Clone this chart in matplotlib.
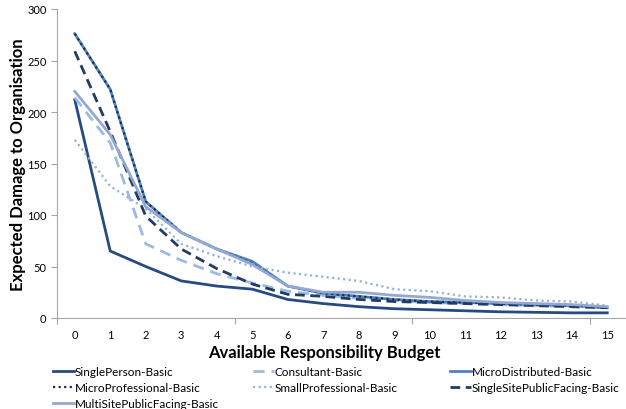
import matplotlib
matplotlib.use("Agg")
import matplotlib.pyplot as plt

plt.rcParams['font.family'] = ['Lato', 'DejaVu Sans']

budget = list(range(16))
single_person = [212, 65, 50, 36, 31, 28, 18, 14, 11, 9, 8, 7, 6, 5.5, 5, 5]
consultant = [214, 170, 72, 56, 43, 34, 26, 22, 19, 17, 15, 14, 13, 12, 11, 10]
micro_distributed = [276, 222, 113, 83, 67, 55, 31, 24, 21, 18, 16, 15, 14, 13, 12, 10]
micro_professional = [276, 222, 113, 83, 67, 53, 31, 24, 21, 18, 16, 15, 14, 13, 12, 10]
small_professional = [173, 128, 106, 72, 60, 50, 44, 40, 36, 28, 26, 21, 20, 17, 16, 12]
single_site = [259, 181, 99, 67, 48, 33, 23, 21, 18, 16, 15, 14, 13, 12, 11, 10]
multi_site = [220, 178, 108, 83, 67, 52, 31, 25, 25, 22, 20, 17, 15, 14, 13, 11]

fig = plt.figure(figsize=(6.26, 4.10), dpi=100)
ax = fig.add_axes([57/626, 91/410, 568/626, 309/410])

h_sp, = ax.plot(budget, single_person, color='#254B80', lw=2.0, label='SinglePerson-Basic')
h_co, = ax.plot(budget, consultant, color='#9BBBE3', lw=2.0, ls=(0, (4, 2.5)), label='Consultant-Basic')
h_md, = ax.plot(budget, micro_distributed, color='#4F81BD', lw=2.0, label='MicroDistributed-Basic')
h_mp, = ax.plot(budget, micro_professional, color='#1B2F4E', lw=1.6, ls=(0, (1, 1.5)), label='MicroProfessional-Basic')
h_sm, = ax.plot(budget, small_professional, color='#95B3D7', lw=1.6, ls=(0, (1, 1.5)), label='SmallProfessional-Basic')
h_ss, = ax.plot(budget, single_site, color='#213B61', lw=2.0, ls=(0, (3.5, 2)), label='SingleSitePublicFacing-Basic')
h_ms, = ax.plot(budget, multi_site, color='#93A9D3', lw=2.0, label='MultiSitePublicFacing-Basic')

ax.set_xlim(-0.5, 15.5)
ax.set_ylim(0, 300)
ax.set_yticks(range(0, 301, 50))
ax.set_xticks([-0.5, 4.5, 9.5, 14.5])
ax.set_xticklabels([])
ax.set_xticks(budget, minor=True)
ax.set_xticklabels([str(b) for b in budget], minor=True)
ax.tick_params(axis='x', which='minor', length=0, labelsize=8, pad=8, colors='black')
ax.tick_params(axis='x', which='major', length=4, color='#A6A6A6')
ax.tick_params(axis='y', length=4, color='#A6A6A6', labelsize=8)

for s in ['top', 'right']:
    ax.spines[s].set_visible(False)
for s in ['left', 'bottom']:
    ax.spines[s].set_color('#A6A6A6')

ax.set_ylabel('Expected Damage to Organisation', fontsize=12, fontweight='bold', labelpad=1)
ax.set_xlabel('Available Responsibility Budget', fontsize=12, fontweight='bold', labelpad=3)
ax.xaxis.set_label_coords((324 - 57) / 568, -(353 - 319) / 309)
ax.xaxis.label.set_verticalalignment('center')

columns = [[h_sp, h_mp, h_ms], [h_co, h_sm], [h_md, h_ss]]
col_x = [53, 253, 450]
for hs, cx in zip(columns, col_x):
    fig.legend(handles=hs, labels=[h.get_label() for h in hs], ncol=1,
               loc='upper left', bbox_to_anchor=(cx / 626, 1 - 367 / 410), frameon=False,
               fontsize=8.5, handlelength=1.8, handletextpad=0.05,
               labelspacing=0.42, borderpad=0, borderaxespad=0)

fig.savefig('out.png', dpi=100)
